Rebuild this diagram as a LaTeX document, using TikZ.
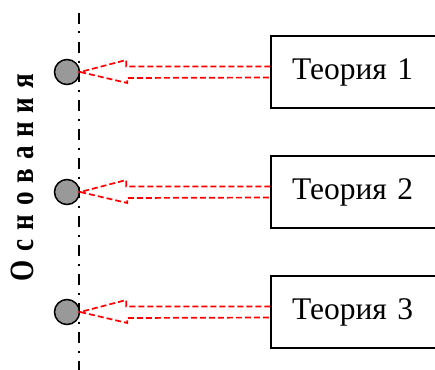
\documentclass[tikz,border=0pt]{standalone}
\usepackage{fontspec}
\setmainfont{Liberation Serif}
\usepackage{xcolor}
\usepackage{tikz}
\usetikzlibrary{shapes.geometric, arrows, positioning}

\begin{document}
\begin{tikzpicture}[x=1pt, y=-1pt]
				% Styles
				\tikzstyle{theory} = [draw, line width=1.5pt, rectangle, minimum height=72pt, minimum width=170pt, text width=128pt, inner xsep=21pt, align=left, font=\fontsize{31.5}{31.5}\selectfont]
				\tikzstyle{base} = [draw, line width=1.5pt, circle, fill=gray!80, minimum size=25pt, inner sep=0pt]
				\tikzstyle{axis} = [line width=2pt, dash pattern=on 11pt off 7.5pt on 2pt off 8.5pt]
				\tikzstyle{hollow} = [red, line width=1.7pt, dash pattern=on 6pt off 3pt]

				\useasboundingbox (0,0) rectangle (435,369);

				% Axis and label
				\coordinate (top) at (79,13);
				\coordinate (bottom) at (79,372);
				\draw [axis] (top) -- (bottom);
				\node (label) [rotate=90, xscale=0.8, anchor=base, font=\fontsize{34}{34}\selectfont\bfseries] at (33,177.5) {О\hspace{11pt}с\hspace{11pt}н\hspace{11pt}о\hspace{11pt}в\hspace{11pt}а\hspace{11pt}н\hspace{11pt}и\hspace{11pt}я};

				% Nodes with absolute coordinates
				\node (base1) [base] at (67,72) {};
				\node (base2) [base] at (67,192) {};
				\node (base3) [base] at (67,312) {};
				\node (theory1) [theory] at (356,72) {Теория 1};
				\node (theory2) [theory] at (356,192) {Теория 2};
				\node (theory3) [theory] at (356,312) {Теория 3};

				% Connections
				\draw [hollow] ([yshift=5.5pt]theory1.west) -- ++(-144,0) -- ++(0,-6.5) -- (base1.east) -- ++(47,11) -- ++(0,-5) -- ([yshift=-5.5pt]theory1.west);
				\draw [hollow] ([yshift=5.5pt]theory2.west) -- ++(-144,0) -- ++(0,-6.5) -- (base2.east) -- ++(47,11) -- ++(0,-5) -- ([yshift=-5.5pt]theory2.west);
				\draw [hollow] ([yshift=5.5pt]theory3.west) -- ++(-144,0) -- ++(0,-6.5) -- (base3.east) -- ++(47,11) -- ++(0,-5) -- ([yshift=-5.5pt]theory3.west);

\end{tikzpicture}
\end{document}
